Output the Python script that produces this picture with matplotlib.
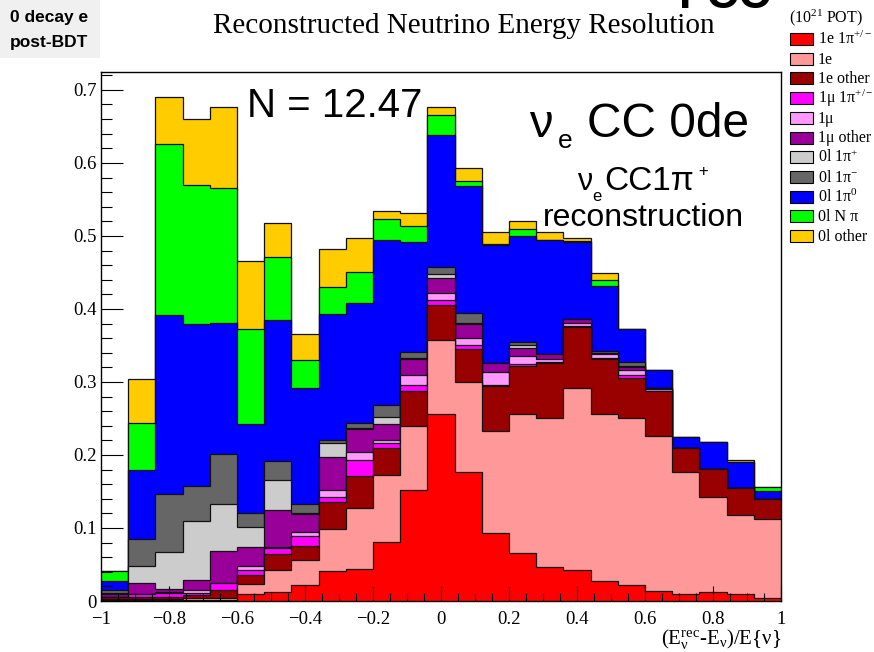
import numpy as np
import matplotlib
matplotlib.use("Agg")
import matplotlib.pyplot as plt
from matplotlib.ticker import MultipleLocator

plt.rcParams["mathtext.fontset"] = "custom"
plt.rcParams["mathtext.rm"] = "Liberation Serif"
plt.rcParams["mathtext.it"] = "Liberation Serif:italic"
plt.rcParams["mathtext.bf"] = "Liberation Serif:bold"

# ---- data: 25 bins of (E_rec - E_true)/E_true, stacked by topology ----
bin_edges = np.linspace(-1.0, 1.0, 26)

labels = ["1e 1π$^{+/-}$", "1e", "1e other", "1μ 1π$^{+/-}$", "1μ", "1μ other",
          "0l 1π$^{+}$", "0l 1π$^{-}$", "0l 1π$^{0}$", "0l N π", "0l other"]

e_1pipm = [0.002, 0.002, 0.002, 0.002, 0.002, 0.009, 0.013, 0.022, 0.041, 0.044,
           0.081, 0.152, 0.256, 0.176, 0.093, 0.066, 0.046, 0.042, 0.027, 0.022,
           0.014, 0.009, 0.013, 0.009, 0.004]
e_only = [0.001, 0.001, 0.001, 0.002, 0.002, 0.014, 0.029, 0.034, 0.058, 0.083,
          0.092, 0.088, 0.102, 0.124, 0.140, 0.190, 0.205, 0.250, 0.229, 0.229,
          0.212, 0.167, 0.129, 0.109, 0.108]
e_other = [0.002, 0.003, 0.002, 0.004, 0.011, 0.013, 0.023, 0.020, 0.036, 0.044,
           0.036, 0.048, 0.047, 0.045, 0.062, 0.066, 0.075, 0.083, 0.075, 0.054,
           0.061, 0.033, 0.039, 0.037, 0.028]
mu_1pipm = [0.001, 0.004, 0.006, 0.003, 0.010, 0.007, 0.007, 0.013, 0.008, 0.022,
            0.007, 0.008, 0.007, 0.006, 0.001, 0.003, 0.001, 0.001, 0.002, 0.004,
            0.001, 0.0, 0.0, 0.0, 0.0]
mu_only = [0.0, 0.0, 0.002, 0.004, 0.0, 0.005, 0.002, 0.006, 0.009, 0.011,
           0.004, 0.013, 0.010, 0.009, 0.017, 0.011, 0.004, 0.005, 0.005, 0.007,
           0.003, 0.0, 0.0, 0.0, 0.0]
mu_other = [0.0035, 0.014, 0.004, 0.014, 0.043, 0.026, 0.050, 0.024, 0.045, 0.032,
            0.022, 0.023, 0.021, 0.020, 0.013, 0.011, 0.007, 0.005, 0.001, 0.004,
            0.001, 0.0, 0.0, 0.0, 0.0]
nl_1pip = [0.001, 0.024, 0.050, 0.080, 0.065, 0.027, 0.042, 0.001, 0.020, 0.001,
           0.010, 0.001, 0.005, 0.001, 0.0, 0.003, 0.0, 0.0, 0.001, 0.002,
           0.0, 0.0, 0.0, 0.0, 0.0]
nl_1pim = [0.0045, 0.037, 0.079, 0.049, 0.068, 0.020, 0.026, 0.013, 0.004, 0.007,
           0.016, 0.008, 0.009, 0.014, 0.0, 0.005, 0.0, 0.0, 0.003, 0.005,
           0.0, 0.001, 0.0, 0.0, 0.0]
nl_1pi0 = [0.012, 0.095, 0.246, 0.222, 0.180, 0.121, 0.193, 0.159, 0.172, 0.164,
           0.227, 0.151, 0.181, 0.174, 0.162, 0.145, 0.157, 0.106, 0.088, 0.046,
           0.025, 0.015, 0.037, 0.036, 0.011]
nl_npi = [0.014, 0.064, 0.234, 0.190, 0.185, 0.131, 0.086, 0.038, 0.037, 0.042,
          0.028, 0.021, 0.028, 0.006, 0.001, 0.009, 0.0, 0.001, 0.009, 0.0,
          0.0, 0.0, 0.0, 0.0, 0.005]
nl_other = [0.0, 0.060, 0.064, 0.090, 0.110, 0.092, 0.047, 0.036, 0.052, 0.047,
            0.011, 0.019, 0.010, 0.018, 0.016, 0.012, 0.010, 0.004, 0.009, 0.0,
            0.0, 0.0, 0.0, 0.002, 0.0]

components = [e_1pipm, e_only, e_other, mu_1pipm, mu_only, mu_other,
              nl_1pip, nl_1pim, nl_1pi0, nl_npi, nl_other]
colors = ["#ff0000", "#ff9999", "#990000", "#ff00ff", "#ff99ff", "#990099",
          "#cccccc", "#666666", "#0000ff", "#00ff00", "#ffcc00"]

n_events = 12.47

# ---- figure ----
W, H = 874, 652
fig = plt.figure(figsize=(W / 100, H / 100), dpi=100)
fig.patch.set_facecolor("white")

def fx(px):
    return px / W

def fy(py):
    return 1 - py / H

ax = fig.add_axes([fx(101), fy(601), fx(781) - fx(101), fy(72) - fy(601)])

cum = np.cumsum(np.array(components, dtype=float), axis=0)
for k in range(len(components) - 1, -1, -1):
    ax.stairs(cum[k], bin_edges, baseline=0, fill=True,
              facecolor=colors[k], edgecolor="none")
    ax.stairs(cum[k], bin_edges, baseline=None, color="#111111", linewidth=0.9)

ax.set_xlim(-1, 1)
ax.set_ylim(0, 1.05 * cum[-1].max())

serif = "Liberation Serif"
ax.xaxis.set_major_locator(MultipleLocator(0.2))
ax.xaxis.set_minor_locator(MultipleLocator(0.05))
ax.yaxis.set_major_locator(MultipleLocator(0.1))
ax.yaxis.set_minor_locator(MultipleLocator(0.02))
ax.xaxis.set_major_formatter(plt.FuncFormatter(
    lambda v, p: "0" if abs(v) < 1e-9 else (f"{v:g}".replace("-", "\u2212"))))
ax.yaxis.set_major_formatter(plt.FuncFormatter(
    lambda v, p: "0" if abs(v) < 1e-9 else f"{v:g}"))
ax.tick_params(axis="x", which="major", direction="in", length=11, width=0.8,
               pad=7, labelsize=13.5, top=False)
ax.tick_params(axis="x", which="minor", direction="in", length=5.5, width=0.8, top=False)
ax.tick_params(axis="y", which="major", direction="in", length=15.5, width=0.8,
               pad=3, labelsize=13.5, right=False)
ax.tick_params(axis="y", which="minor", direction="in", length=8, width=0.8, right=False)
for lab in ax.get_xticklabels() + ax.get_yticklabels():
    lab.set_fontfamily(serif)
for sp in ax.spines.values():
    sp.set_linewidth(1.0)
    sp.set_zorder(5)

fig.text(fx(781), fy(644), r"(E$_{\mathrm{ν}}^{\mathrm{rec}}$-E$_{\mathrm{ν}}$)/E{ν}",
         ha="right", va="baseline", fontsize=15, family=serif)

# ---- annotations inside the frame ----
sans = "Liberation Sans"
fig.text(fx(247), fy(117), f"N = {n_events:.2f}", fontsize=29, family=sans,
         ha="left", va="baseline")
fig.text(fx(529), fy(137), "ν", fontsize=34, family=sans, ha="left", va="baseline")
fig.text(fx(558), fy(148), "e", fontsize=19, family=sans, ha="left", va="baseline")
fig.text(fx(587), fy(137), "CC 0de", fontsize=34.5, family=sans, ha="left", va="baseline")
fig.text(fx(577), fy(190), "ν", fontsize=22, family=sans, ha="left", va="baseline")
fig.text(fx(592), fy(201), "e", fontsize=12, family=sans, ha="left", va="baseline")
fig.text(fx(604), fy(190), "CC1π", fontsize=24, family=sans, ha="left", va="baseline")
fig.text(fx(698), fy(176), "+", fontsize=12, family=sans, ha="left", va="baseline")
fig.text(fx(543), fy(226), "reconstruction", fontsize=23, family=sans,
         ha="left", va="baseline")

# ---- title and corner tags ----
fig.text(fx(464), fy(33), "Reconstructed Neutrino Energy Resolution", fontsize=21,
         family=serif, ha="center", va="baseline")
fig.patches.append(matplotlib.patches.Rectangle((0, fy(58)), fx(100), 1 - fy(58),
                   transform=fig.transFigure, facecolor="#f0f0f0", edgecolor="none",
                   zorder=0))
fig.text(fx(10), fy(22), "0 decay e", fontsize=12.5, family=sans, weight="bold",
         ha="left", va="baseline")
fig.text(fx(10), fy(47), "post-BDT", fontsize=12.5, family=sans, weight="bold",
         ha="left", va="baseline")
fig.text(fx(679), fy(8), "FCC", fontsize=32, family=sans, weight="bold",
         ha="left", va="baseline")

# ---- legend ----
fig.text(fx(789), fy(22), "(10$^{21}$ POT)", fontsize=11.5, family=serif,
         ha="left", va="baseline")
for i, (lab, col) in enumerate(zip(labels, colors)):
    yc = 39 + i * 19.7
    fig.patches.append(matplotlib.patches.Rectangle(
        (fx(790), fy(yc + 6)), fx(813) - fx(790), fy(yc - 6) - fy(yc + 6),
        transform=fig.transFigure, facecolor=col, edgecolor="black", linewidth=0.8))
    fig.text(fx(818), fy(yc + 5), lab, fontsize=11.5, family=serif,
             ha="left", va="baseline")

fig.savefig("out.png", dpi=100)
